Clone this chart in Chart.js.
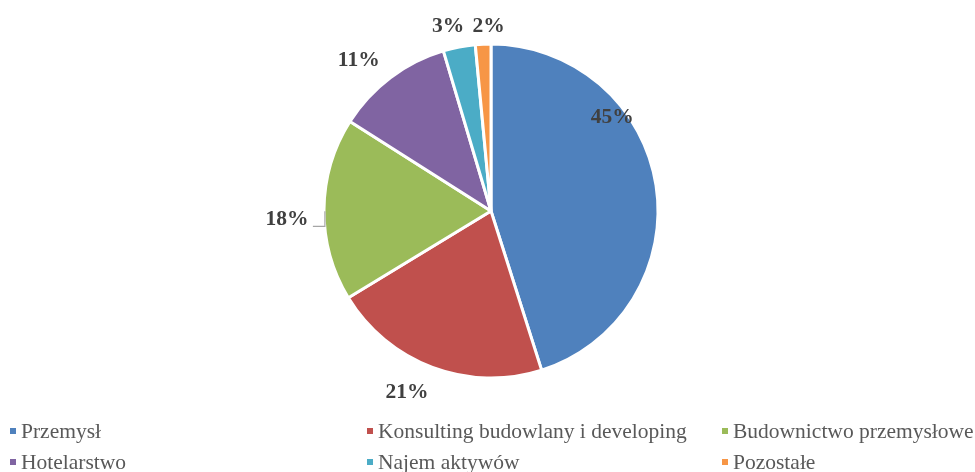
<!DOCTYPE html>
<html>
<head>
<meta charset="utf-8">
<script src="https://cdn.jsdelivr.net/npm/chart.js@4"></script>
<style>
  html, body { margin: 0; padding: 0; background: #fff; }
  #wrap { position: relative; width: 975px; height: 472px; }
</style>
</head>
<body>
<div id="wrap"><canvas id="myChart" width="975" height="472"></canvas></div>
<script>
// DATA
const categories = ["Przemysł", "Konsulting budowlany i developing", "Budownictwo przemysłowe",
                    "Hotelarstwo", "Najem aktywów", "Pozostałe"];
const shares = [45.1, 21.2, 17.7, 11.4, 3.1, 1.5];
const shareLabels = ["45%", "21%", "18%", "11%", "3%", "2%"];
const sliceColors = ["#4F81BD", "#C0504D", "#9BBB59", "#8064A2", "#4BACC6", "#F79646"];

// label nudges: [angle shift in degrees from slice middle, distance as factor of radius]
const labelSpots = [[-29, 0.92], [4.5, 1.19], [-2.6, 1.223], [-4, 1.205], [-2, 1.14], [2, 1.11]];

const labelsPlugin = {
  id: "pctLabels",
  afterDatasetsDraw(chart) {
    const ctx = chart.ctx;
    const arcs = chart.getDatasetMeta(0).data;
    ctx.save();
    ctx.font = "bold 21.5px 'Liberation Serif', 'Times New Roman', serif";
    ctx.fillStyle = "#404040";
    ctx.textAlign = "center";
    ctx.textBaseline = "middle";
    arcs.forEach((arc, i) => {
      const p = arc.getProps(["x", "y", "startAngle", "endAngle", "outerRadius"], true);
      const mid = (p.startAngle + p.endAngle) / 2 + labelSpots[i][0] * Math.PI / 180;
      const r = p.outerRadius * labelSpots[i][1];
      const tx = p.x + Math.cos(mid) * r;
      const ty = p.y + Math.sin(mid) * r + 1;
      ctx.fillText(shareLabels[i], tx, ty);
      // small leader line for the left label
      if (i === 2) {
        const lx = tx + 26;
        const ly = ty + 7;
        ctx.strokeStyle = "#A6A6A6";
        ctx.lineWidth = 1.2;
        ctx.beginPath();
        ctx.moveTo(lx, ly);
        ctx.lineTo(lx + 12, ly);
        ctx.lineTo(lx + 12, ly - 15);
        ctx.stroke();
      }
    });
    ctx.restore();
  }
};

const legendPlugin = {
  id: "gridLegend",
  afterDraw(chart) {
    const ctx = chart.ctx;
    const colX = [10, 367, 722];
    const rowY = [431, 462];
    ctx.save();
    ctx.font = "21.5px 'Liberation Serif', 'Times New Roman', serif";
    ctx.textBaseline = "middle";
    ctx.textAlign = "left";
    categories.forEach((name, i) => {
      const x = colX[i % 3];
      const y = rowY[Math.floor(i / 3)];
      ctx.fillStyle = sliceColors[i];
      ctx.fillRect(x, y - 3, 6, 6);
      ctx.fillStyle = "#595959";
      ctx.fillText(name, x + 11, y + 1);
    });
    ctx.restore();
  }
};

let myChart;

document.addEventListener('DOMContentLoaded', function() {
  const ctx = document.getElementById("myChart").getContext("2d");
  myChart = new Chart(ctx, {
    type: "pie",
    data: {
      labels: categories,
      datasets: [{
        data: shares,
        backgroundColor: sliceColors,
        borderColor: "#FFFFFF",
        borderWidth: 3
      }]
    },
    options: {
      responsive: false,
      animation: false,
      radius: 167,
      layout: { padding: { left: 7, top: 0, right: 0, bottom: 50 } },
      plugins: {
        legend: { display: false },
        tooltip: { enabled: false }
      }
    },
    plugins: [labelsPlugin, legendPlugin]
  });
});
</script>
</body>
</html>
